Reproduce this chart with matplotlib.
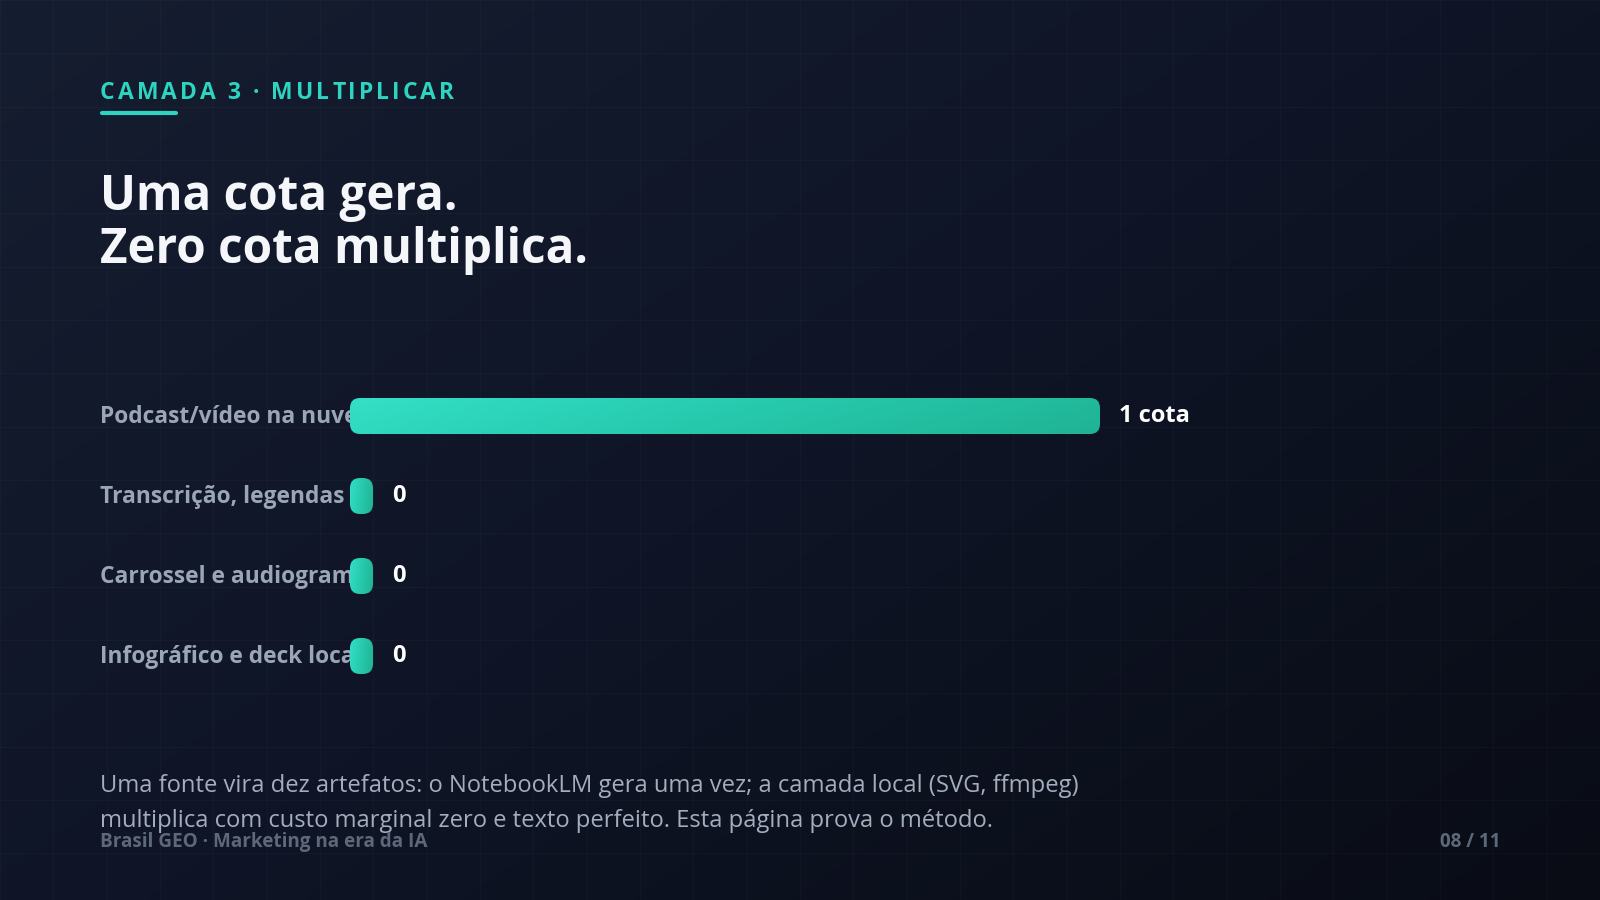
import numpy as np
import matplotlib
matplotlib.use("Agg")
import matplotlib.pyplot as plt
from matplotlib.patches import FancyBboxPatch
from matplotlib.colors import LinearSegmentedColormap
from matplotlib.transforms import blended_transform_factory, Bbox, TransformedBbox

# ---------------- data ----------------
kicker = "CAMADA 3 · MULTIPLICAR"
title_lines = ["Uma cota gera.", "Zero cota multiplica."]
categories = ["Podcast/vídeo na nuvem", "Transcrição, legendas", "Carrossel e audiogramas", "Infográfico e deck local"]
values = [1, 0, 0, 0]
value_labels = ["1 cota", "0", "0", "0"]
note_lines = ["Uma fonte vira dez artefatos: o NotebookLM gera uma vez; a camada local (SVG, ffmpeg)",
              "multiplica com custo marginal zero e texto perfeito. Esta página prova o método."]
footer_left = "Brasil GEO · Marketing na era da IA"
footer_right = "08 / 11"

# ---------------- style ----------------
W, H = 1600, 900
DPI = 100
FONT = "Open Sans"
TEAL = "#2dd4bf"
LABEL_C = "#9aa5b8"
NOTE_C = "#a3adbd"
FOOT_C = "#5d6879"
MIN_PILL = 23 / 750  # visual minimum width for zero bars

fig = plt.figure(figsize=(W / DPI, H / DPI), dpi=DPI)

def px(x, y):
    return x / W, 1 - y / H

# background
bg = fig.add_axes([0, 0, 1, 1], zorder=-10)
bg.set_axis_off()
yy, xx = np.mgrid[0:1:200j, 0:1:360j]
t = np.clip(0.55 * xx + 0.45 * yy, 0, 1)
bgcmap = LinearSegmentedColormap.from_list("bg", ["#151d30", "#0f1526", "#090c15"])
bg.imshow(t, cmap=bgcmap, extent=[0, W, H, 0], aspect="auto", interpolation="bicubic")
step = W / 30
for gx in np.arange(0, W + 1, step):
    bg.axvline(gx, color="white", alpha=0.025, lw=1)
for gy in np.arange(0, H + 1, step):
    bg.axhline(gy, color="white", alpha=0.025, lw=1)
bg.set_xlim(0, W)
bg.set_ylim(H, 0)

# kicker with letter spacing
renderer = fig.canvas.get_renderer()
kx, ky = px(100, 99)
kprops = dict(fontsize=16.5, fontweight="bold", color=TEAL, family=FONT)
probe = fig.text(0, 0, "|", **kprops)
wbar = probe.get_window_extent(renderer).width
probe.remove()
spacing = 3.1
for i, ch in enumerate(kicker):
    tmp = fig.text(0, 0, kicker[:i] + "|", **kprops)
    w = tmp.get_window_extent(renderer).width - wbar if i > 0 else 0
    tmp.remove()
    fig.text(kx + (w + i * spacing) / W, ky, ch, ha="left", va="baseline", **kprops)

# underline
ux0, uy = px(102, 113)
ux1, _ = px(176, 113)
fig.add_artist(plt.Line2D([ux0, ux1], [uy, uy], color=TEAL, lw=3, solid_capstyle="round",
                          transform=fig.transFigure))

# title
for i, line in enumerate(title_lines):
    x, y = px(100, 210 + 53 * i)
    fig.text(x, y, line, fontsize=34.3, fontweight="bold", color="#f4f6fa", family=FONT,
             ha="left", va="baseline")

# chart axes: x 0..1 -> 350..1100 px, rows centred at 416 + 80*i
ax = fig.add_axes([350 / W, 1 - 696 / H, 750 / W, 320 / H])
ax.set_xlim(0, 1)
ax.set_ylim(len(categories) - 0.5, -0.5)
ax.set_axis_off()

bar_h = 36 / 80
aspect = (1 / 80) / (1 / 750)
r = 10 / 750
barcmap = LinearSegmentedColormap.from_list("bar", ["#33e0c6", "#27c9ad", "#1fb394"])
grad = np.linspace(0, 1, 256)[None, :] * 0.85 + np.linspace(0, 0.15, 20)[:, None]

trans_lab = blended_transform_factory(fig.transFigure, ax.transData)
label_clip = TransformedBbox(Bbox([[0, 0], [352 / W, 1]]), fig.transFigure)
for i, (cat, v, vl) in enumerate(zip(categories, values, value_labels)):
    w = max(v, MIN_PILL)
    lab = ax.text(100 / W, i + 0.01, cat, transform=trans_lab, ha="left", va="center",
                  fontsize=16.4, fontweight="bold", color=LABEL_C, family=FONT, zorder=1)
    lab.set_clip_box(label_clip)
    lab.set_clip_on(True)
    patch = FancyBboxPatch((0, i - bar_h / 2), w, bar_h,
                           boxstyle=f"round,pad=0,rounding_size={r}",
                           mutation_aspect=aspect, facecolor="none", edgecolor="none", zorder=3)
    ax.add_patch(patch)
    im = ax.imshow(grad, cmap=barcmap, vmin=0, vmax=1, aspect="auto",
                   extent=[0, w, i + bar_h / 2, i - bar_h / 2], zorder=3, interpolation="bilinear")
    im.set_clip_path(patch)
    ax.annotate(vl, (w, i), xytext=(13.5, 0), textcoords="offset points", ha="left", va="center",
                fontsize=17, fontweight="bold", color="white", family=FONT, zorder=4,
                annotation_clip=False)
ax.set_xlim(0, 1)
ax.set_ylim(len(categories) - 0.5, -0.5)

# note
for i, line in enumerate(note_lines):
    x, y = px(100, 792 + 35 * i)
    fig.text(x, y, line, fontsize=17.1, fontweight="normal", color=NOTE_C, family=FONT,
             ha="left", va="baseline")

# footer
x, y = px(100, 847)
fig.text(x, y, footer_left, fontsize=13.6, fontweight="bold", color=FOOT_C, family=FONT,
         ha="left", va="baseline")
x, y = px(1501, 847)
fig.text(x, y, footer_right, fontsize=13.6, fontweight="bold", color=FOOT_C, family=FONT,
         ha="right", va="baseline")

fig.savefig("out.png", dpi=DPI)
